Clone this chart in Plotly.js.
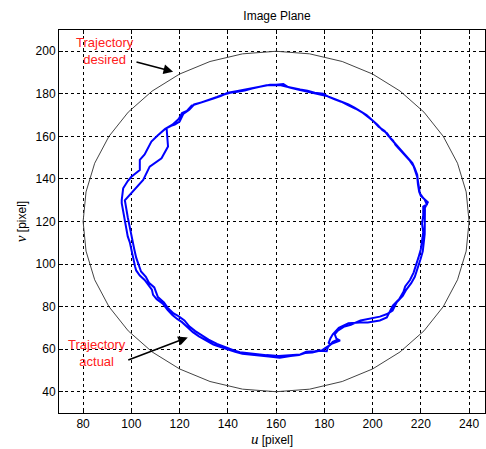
<!DOCTYPE html>
<html>
<head>
<meta charset="utf-8">
<script src="https://cdn.plot.ly/plotly-3.0.1.min.js"></script>
<style>html,body{margin:0;padding:0;background:#fff;}#chart{width:486px;height:449px;}</style>
</head>
<body>
<div id="chart"></div>
<script>
// Desired trajectory (circle polygon vertices)
const uDesired = [240,238.8,235.2,229.3,221.3,211.4,200,187.4,173.9,160,146.1,132.6,120,108.6,98.7,90.7,84.8,81.2,80,81.2,84.8,90.7,98.7,108.6,120,132.6,146.1,160,173.9,187.4,200,211.4,221.3,229.3,235.2,238.8,240];
const vDesired = [120,133.9,147.4,160,171.4,181.3,189.3,195.2,198.8,200,198.8,195.2,189.3,181.3,171.4,160,147.4,133.9,120,106.1,92.6,80,68.6,58.7,50.7,44.8,41.2,40,41.2,44.8,50.7,58.7,68.6,80,92.6,106.1,120];

// Actual trajectory (two passes)
const uActual = [
185.5,183.5,181.5,181,178,175,172,169.5,166,161.5,157,153,149,146,143,140.5,137,134,131,128,125.5,123,121,119,117,115,113,110.5,109,108.5,107,105.5,103.5,102,101.5,100.6,100,99.4,98.5,98,97.5,97,96.5,96,96,96.6,98.5,100,103.5,103.5,105.5,108.3,111,114,116.5,118,120,121.5,124,126,129,132.5,135.5,138,141,144,147,150,153,156,159,162,164.5,167,170,173,176,179.5,182,185,188,190,192.5,195,197.5,200,202,204,206,207.5,209,211,213,215,216.5,217.5,218.5,218.8,219.3,219.6,221,222.9,221.7,221.7,221.5,221.6,221.2,220.8,219.8,218.8,217.5,216,214,212.5,210,208.3,206,203,199,195,191,188,185.6,184.3,185,186.5,
183,180.5,179,176,172.5,170,165,161,156,152,148,145,142,139,135.5,132,129,126.5,124,122,119.5,117.5,115,113.5,111,110.2,109.5,107.3,106,104,103,102,101.2,100.5,99.5,99,98.5,97.3,99.3,101.4,104.9,107.6,112.5,115.2,114.6,117,119.5,121,123,125,128,131,134,137,140,143.5,147,150.5,154,157.5,160,163,165,166,169,172,175,178,181,184,187,190,193,196,198,200.5,202.5,205,206.5,208.5,209.5,211.5,213.5,215.5,217,218,218.5,218.8,219.3,220,221.5,222.5,221,221,220.5,221,220.5,220,219,218,217,215.5,213.5,212.8,211,208.4,205.9,203,198,194.7,190,186,183.5,182.5,181.8,182.5,184,186];
const vActual = [
64.5,63.5,61,59,59.3,58.4,58.2,57.3,56.8,56,56.6,57,57.3,57.9,58.8,59.6,61,62.2,64,66,68,70.5,72.7,74.2,76,78.5,81.4,83.5,85.5,88,90.5,92.5,94.6,97,99,104,107,110,113,116,119.5,123,125.3,128.6,130.1,135.6,139,141,144.2,149,151.5,157.6,160.5,163.5,165,165.5,167,170.5,172.5,175,176,177.2,178.5,179.6,180.5,181,181.5,182.5,183.3,184,184.2,184,183.3,182.6,182,181.5,180.5,180,178.5,177.2,176,175,173.5,171.8,170,167.5,165.5,163,161.5,159,157,154.5,152,149.5,147.5,145,142,139,136,133.3,131,129.1,126.5,122,118,114,110,106,102,98,94,91,88,85,82,78.2,76.5,75.3,74.3,73.5,71.5,70.5,68.7,67,65,64,
62.5,60.5,59.5,59,58.8,57.5,57,56.8,57.2,57.6,58.3,58.6,59.6,60.8,62.5,64.5,66.5,68.5,70.7,73.5,75.5,76.8,79.5,82,84.5,86.7,89,91.2,94,96.5,99.5,103,107,111,115,118,122,130,132.4,134.8,139.5,145.8,149.7,155.2,163.9,165.5,168,171,172,174.5,175.5,176.5,177.8,179,180.5,181.2,182,183,183.6,184.3,184.3,184.6,183.2,182.8,182,181.2,180.6,179.8,179,177.5,176.3,174.6,173,171,169.4,167,164.5,162.6,160.2,158,156,153.5,151,148.5,146,143,141,137.5,134,132,130.5,128,127,123,119,115,111,107,103,99.5,96,92.5,89.5,87,83.5,80.5,74.9,73.5,72.5,72.5,72.2,70,67,65,63,62,63.5];

const xTicks = [80,100,120,140,160,180,200,220,240];
const yTicks = [40,60,80,100,120,140,160,180,200];

const axisCommon = {
  showline: true, linecolor: '#000', linewidth: 1, mirror: 'ticks',
  ticks: 'inside', ticklen: 4, tickcolor: '#000',
  showgrid: true, gridcolor: '#000', gridwidth: 1, griddash: '3px,3px',
  zeroline: false, tickmode: 'array',
  tickfont: {family: 'Liberation Sans, Arial, sans-serif', size: 12, color: '#000'}
};

const traces = [
  {x: uDesired, y: vDesired, type: 'scatter', mode: 'lines',
   line: {color: '#444', width: 1}, hoverinfo: 'skip'},
  {x: uActual, y: vActual, type: 'scatter', mode: 'lines',
   line: {color: '#0000ff', width: 2}, hoverinfo: 'skip'}
];

const layout = {
  width: 486, height: 449,
  margin: {l: 59, r: 1, t: 30, b: 36},
  paper_bgcolor: '#fff', plot_bgcolor: '#fff',
  showlegend: false,
  title: {text: 'Image Plane', x: 0.57, xanchor: 'center', y: 0.965, yanchor: 'middle',
          font: {family: 'Liberation Sans, Arial, sans-serif', size: 12, color: '#000'}},
  xaxis: Object.assign({}, axisCommon, {
    range: [70, 246.6], tickvals: xTicks,
    title: {text: "<span style='font-family:Liberation Serif;font-size:15px'><i>u</i></span> [pixel]",
            standoff: 4, font: {family: 'Liberation Sans, Arial, sans-serif', size: 12, color: '#000'}}
  }),
  yaxis: Object.assign({}, axisCommon, {
    range: [30, 210], tickvals: yTicks,
    title: {text: "<span style='font-family:Liberation Serif;font-size:15px'><i>v</i></span> [pixel]",
            standoff: 6, font: {family: 'Liberation Sans, Arial, sans-serif', size: 12, color: '#000'}}
  }),
  annotations: [
    {x: 89, y: 200, xref: 'x', yref: 'y', text: 'Trajectory<br>desired', showarrow: false,
     font: {family: 'Liberation Sans, Arial, sans-serif', size: 13, color: '#ff2020'}, align: 'center'},
    {x: 117.3, y: 190.4, ax: 101.5, ay: 195.1, xref: 'x', yref: 'y', axref: 'x', ayref: 'y',
     text: '', showarrow: true, arrowhead: 2, arrowsize: 1.2, arrowwidth: 1.6, arrowcolor: '#000'},
    {x: 85.7, y: 58.4, xref: 'x', yref: 'y', text: 'Trajectory<br>actual', showarrow: false,
     font: {family: 'Liberation Sans, Arial, sans-serif', size: 13, color: '#ff2020'}, align: 'center'},
    {x: 123.4, y: 65.5, ax: 98.1, ay: 54.6, xref: 'x', yref: 'y', axref: 'x', ayref: 'y',
     text: '', showarrow: true, arrowhead: 2, arrowsize: 1.2, arrowwidth: 1.6, arrowcolor: '#000'}
  ]
};

Plotly.newPlot('chart', traces, layout, {displayModeBar: false, staticPlot: true});
</script>
</body>
</html>
